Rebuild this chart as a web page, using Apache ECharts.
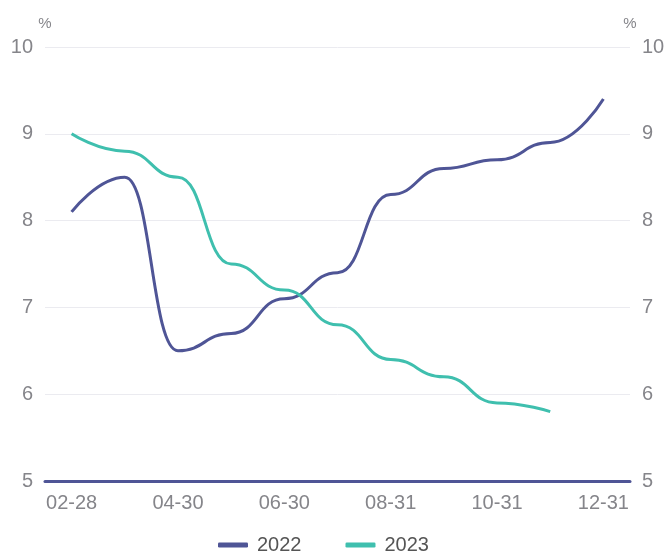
<!DOCTYPE html>
<html>
<head>
<meta charset="utf-8">
<script src="https://cdn.jsdelivr.net/npm/echarts@6/dist/echarts.min.js"></script>
<style>
  html, body { margin: 0; padding: 0; background: #fff; }
  #chart { width: 670px; height: 554px; }
</style>
</head>
<body>
<div id="chart"></div>
<script>
// Month-end dates shown on the category axis
const categories = ['02-28', '03-31', '04-30', '05-31', '06-30', '07-31', '08-31', '09-30', '10-31', '11-30', '12-31'];
// Year-over-year rates, in percent
const values2022 = [8.1, 8.5, 6.5, 6.7, 7.1, 7.4, 8.3, 8.6, 8.7, 8.9, 9.4];
const values2023 = [9.0, 8.8, 8.5, 7.5, 7.2, 6.8, 6.4, 6.2, 5.9, 5.8];
const seriesNames = ['2022', '2023'];

const labelColor = '#85858a';
const fontFamily = '"Liberation Sans", "Noto Sans", sans-serif';

function valueAxis(position) {
  return {
    type: 'value',
    position: position,
    min: 5,
    max: 10,
    interval: 1,
    name: '%',
    nameGap: 16,
    nameTextStyle: { color: labelColor, fontSize: 15, fontFamily: fontFamily },
    axisLine: { show: false },
    axisTick: { show: false },
    axisLabel: { color: labelColor, fontSize: 20, fontFamily: fontFamily, margin: 12 },
    splitLine: { show: position === 'left', lineStyle: { color: '#ebebf0', width: 1 } }
  };
}

const chart = echarts.init(document.getElementById('chart'));
chart.setOption({
  animation: false,
  color: ['#4f5596', '#3fbfae'],
  grid: { left: 45, right: 40, top: 47, bottom: 73, containLabel: false },
  legend: {
    data: seriesNames,
    top: 530,
    left: 213,
    icon: 'roundRect',
    itemWidth: 30,
    itemHeight: 5,
    itemGap: 44,
    textStyle: { color: '#555', fontSize: 20, fontFamily: fontFamily, padding: [0, 0, 0, 4] }
  },
  xAxis: {
    type: 'category',
    data: categories,
    boundaryGap: true,
    axisLine: { lineStyle: { color: '#4f5596', width: 3 } },
    axisTick: { show: false },
    axisLabel: { color: labelColor, fontSize: 20, fontFamily: fontFamily, interval: 1, margin: 12 }
  },
  yAxis: [valueAxis('left'), valueAxis('right')],
  series: [
    {
      name: seriesNames[0],
      type: 'line',
      data: values2022,
      smooth: true,
      smoothMonotone: 'x',
      symbol: 'none',
      lineStyle: { width: 3 }
    },
    {
      name: seriesNames[1],
      type: 'line',
      data: values2023,
      smooth: true,
      smoothMonotone: 'x',
      symbol: 'none',
      lineStyle: { width: 3 }
    }
  ]
});
</script>
</body>
</html>
